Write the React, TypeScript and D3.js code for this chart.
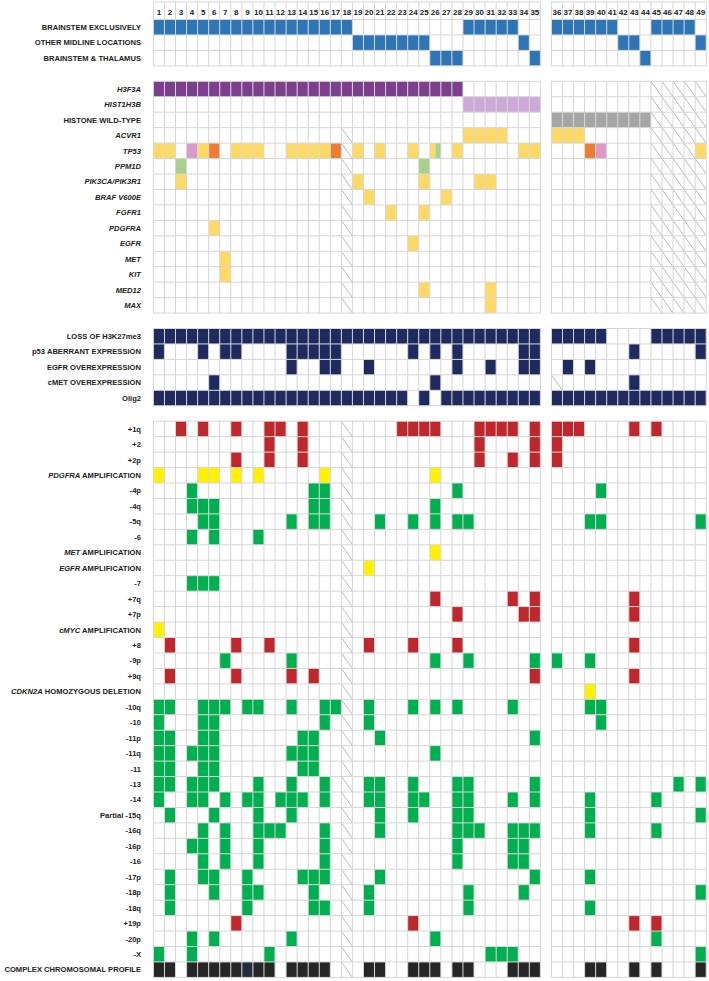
import React from 'react';
import * as d3 from 'd3';

// ---------- DATA ----------
const LEFT_COLS = [1,2,3,4,5,6,7,8,9,10,11,12,13,14,15,16,17,18,19,20,21,22,23,24,25,26,27,28,29,30,31,32,33,34,35];
const RIGHT_COLS = [36,37,38,39,40,41,42,43,44,45,46,47,48,49];

// labels: [italic part, plain part]
const LOCATION_LABELS: [string, string][] = [
  ['', 'BRAINSTEM EXCLUSIVELY'],
  ['', 'OTHER MIDLINE LOCATIONS'],
  ['', 'BRAINSTEM & THALAMUS'],
];
const LOCATION_CELLS: Record<string, number[]>[] = [
  { loc: [1,2,3,4,5,6,7,8,9,10,11,12,13,14,15,16,17,18,29,30,31,32,33,36,37,38,39,40,41,45,46,47,48] },
  { loc: [19,20,21,22,23,24,25,34,42,43,49] },
  { loc: [26,27,28,35,44] },
];
const LOCATION_NA: number[][] = [[], [], []];

const MUTATION_LABELS: [string, string][] = [
  ['H3F3A', ''], ['HIST1H3B', ''], ['', 'HISTONE WILD-TYPE'], ['ACVR1', ''], ['TP53', ''],
  ['PPM1D', ''], ['PIK3CA/PIK3R1', ''], ['BRAF V600E', ''], ['FGFR1', ''], ['PDGFRA', ''],
  ['EGFR', ''], ['MET', ''], ['KIT', ''], ['MED12', ''], ['MAX', ''],
];
const MUTATION_CELLS: Record<string, number[]>[] = [
  { h33: [1,2,3,4,5,6,7,8,9,10,11,12,13,14,15,16,17,18,19,20,21,22,23,24,25,26,27,28] },
  { h31: [29,30,31,32,33,34,35] },
  { wt: [36,37,38,39,40,41,42,43,44] },
  { mut: [29,30,31,32,36,37,38] },
  { mut: [1,2,5,8,9,10,13,14,15,16,19,21,24,28,34,35,49], orange: [6,17,39], pink: [4,40], split: [26] },
  { lgreen: [3,25] },
  { mut: [3,19,25,30,31] },
  { mut: [20,27] },
  { mut: [22,25] },
  { mut: [6] },
  { mut: [24] },
  { mut: [7] },
  { mut: [7] },
  { mut: [25,31] },
  { mut: [31] },
];
const MUTATION_NA: number[][] = [
  [45,46,47,48,49], [45,46,47,48,49], [45,46,47,48,49],
  [18,45,46,47,48,49], [18,45,46,47,48,49], [18,45,46,47,48,49], [18,45,46,47,48,49],
  [18,45,46,47,48,49], [18,45,46,47,48,49], [18,45,46,47,48,49], [18,45,46,47,48,49],
  [18,45,46,47,48,49], [18,45,46,47,48,49], [18,45,46,47,48,49], [18,45,46,47,48,49],
];

const IHC_LABELS: [string, string][] = [
  ['', 'LOSS OF H3K27me3'], ['', 'p53 ABERRANT EXPRESSION'], ['', 'EGFR OVEREXPRESSION'],
  ['', 'cMET OVEREXPRESSION'], ['', 'Olig2'],
];
const IHC_CELLS: Record<string, number[]>[] = [
  { ihc: [1,2,3,4,5,6,7,8,9,10,11,12,13,14,15,16,17,18,19,20,21,22,23,24,25,26,27,28,29,30,31,32,33,34,35,36,37,38,39,40,45,46,47,48,49] },
  { ihc: [1,5,7,8,13,14,15,16,17,24,26,28,34,35,43,49] },
  { ihc: [13,16,17,20,28,31,34,35,37,39] },
  { ihc: [6,26,43] },
  { ihc: [1,2,3,4,5,6,7,8,9,10,11,12,13,14,15,16,17,18,19,20,21,22,23,25,27,28,29,30,31,32,33,34,35,36,37,38,39,40,41,42,43,44,45,46,47,48,49] },
];
const IHC_NA: number[][] = [[], [], [], [36], []];

const CNV_LABELS: [string, string][] = [
  ['', '+1q'], ['', '+2'], ['', '+2p'], ['PDGFRA', ' AMPLIFICATION'], ['', '-4p'], ['', '-4q'],
  ['', '-5q'], ['', '-6'], ['MET', ' AMPLIFICATION'], ['EGFR', ' AMPLIFICATION'], ['', '-7'],
  ['', '+7q'], ['', '+7p'], ['cMYC', ' AMPLIFICATION'], ['', '+8'], ['', '-9p'], ['', '+9q'],
  ['CDKN2A', ' HOMOZYGOUS DELETION'], ['', '-10q'], ['', '-10'], ['', '-11p'], ['', '-11q'],
  ['', '-11'], ['', '-13'], ['', '-14'], ['', 'Partial -15q'], ['', '-16q'], ['', '-16p'],
  ['', '-16'], ['', '-17p'], ['', '-18p'], ['', '-18q'], ['', '+19p'], ['', '-20p'], ['', '-X'],
  ['', 'COMPLEX CHROMOSOMAL PROFILE'],
];
const CNV_CELLS: Record<string, number[]>[] = [
  { gain: [3,5,8,11,12,14,23,24,25,26,30,31,32,33,35,36,37,38,43,45] },
  { gain: [11,14,30,35,36] },
  { gain: [8,11,14,30,33,35,36] },
  { amp: [1,5,6,8,10,16,26] },
  { loss: [4,15,16,28,40] },
  { loss: [4,5,6,15,16,26] },
  { loss: [5,6,13,15,16,21,24,26,28,29,39,40,49] },
  { loss: [4,6,10] },
  { amp: [26] },
  { amp: [20] },
  { loss: [4,5,6] },
  { gain: [26,33,35,43] },
  { gain: [28,34,35,43] },
  { amp: [1] },
  { gain: [2,8,11,20,24,28,43] },
  { loss: [7,13,26,29,35,36,39] },
  { gain: [2,8,13,15,35,43] },
  { amp: [39] },
  { loss: [1,2,5,6,7,9,10,13,16,17,20,24,26,28,33,39,40] },
  { loss: [1,5,6,16,20,40] },
  { loss: [1,2,5,6,14,15,21,35] },
  { loss: [1,2,4,5,6,13,14,15,26] },
  { loss: [1,2,5,6,14,15] },
  { loss: [1,2,4,5,6,10,13,16,20,21,24,28,29,35,47,49] },
  { loss: [1,4,5,7,9,10,12,13,14,16,20,21,24,25,28,29,33,35,39,45] },
  { loss: [2,6,10,13,21,24,28,29,39,49] },
  { loss: [5,7,10,11,12,16,21,28,29,30,33,34,35,39,45] },
  { loss: [4,5,7,10,16,28,33,34] },
  { loss: [5,7,10,16,28,33,34] },
  { loss: [2,5,6,9,14,15,16,21,35,39] },
  { loss: [2,6,9,10,15,20,29,34,49] },
  { loss: [2,9,15,16,20,29,39] },
  { gain: [8,24,43,45] },
  { loss: [4,6,13,26,45] },
  { loss: [1,4,11,31,32,33,49] },
  { cx: [1,2,4,5,6,7,8,10,11,13,14,15,16,20,21,24,25,26,28,29,33,34,35,39,40,43,45,49], cx2: [9] },
];
const CNV_NA: number[][] = CNV_LABELS.map(() => [18]);

// ---------- STYLE ----------
const COLORS: Record<string, string> = {
  loc: '#2E75B6', h33: '#7B3F8E', h31: '#CCA9D7', wt: '#A6A6A6', mut: '#FFD966',
  orange: '#ED7D31', pink: '#DA9ACB', lgreen: '#A9D18E', ihc: '#1F2A5E',
  gain: '#C0272D', loss: '#00B050', amp: '#FFF100', cx: '#262626', cx2: '#222C40',
};
const GRID = '#D6D6D6';
const HATCH = '#A8A8A8';
const FONT = '"Liberation Sans", Arial, sans-serif';

export default function App() {
  const W = 709, H = 981;
  const colDomain = [...LEFT_COLS.map(String), 'gap', ...RIGHT_COLS.map(String)];
  const x = d3.scaleBand<string>().domain(colDomain).range([153.4, 706.2]);
  const rowH = 15.45;
  const panels = [
    { key: 'loc', labels: LOCATION_LABELS, cells: LOCATION_CELLS, na: LOCATION_NA },
    { key: 'mut', labels: MUTATION_LABELS, cells: MUTATION_CELLS, na: MUTATION_NA },
    { key: 'ihc', labels: IHC_LABELS, cells: IHC_CELLS, na: IHC_NA },
    { key: 'cnv', labels: CNV_LABELS, cells: CNV_CELLS, na: CNV_NA },
  ];
  const slots: string[] = [];
  panels.forEach((p, pi) => {
    if (pi > 0) slots.push('gap' + pi);
    p.labels.forEach((_, i) => slots.push(p.key + i));
  });
  const y = d3.scaleBand<string>().domain(slots).range([19.5, 19.5 + slots.length * rowH]);
  const bw = x.bandwidth();
  const bh = y.bandwidth();
  const headerTop = 2;

  const blocks = [LEFT_COLS, RIGHT_COLS];
  const elems: React.ReactNode[] = [];

  panels.forEach((p, pi) => {
    const rowKeys = p.labels.map((_, i) => p.key + i);
    const yTop = pi === 0 ? headerTop : (y(rowKeys[0]) as number);
    const yBot = (y(rowKeys[rowKeys.length - 1]) as number) + bh;
    // fills
    p.cells.forEach((row, ri) => {
      const yy = y(rowKeys[ri]) as number;
      const filled = new Set<number>();
      Object.entries(row).forEach(([code, cols]) => {
        cols.forEach((c) => {
          filled.add(c);
          const xx = x(String(c)) as number;
          if (code === 'split') {
            elems.push(<rect key={`${p.key}-${ri}-${c}-a`} x={xx} y={yy} width={bw / 2} height={bh} fill={COLORS.mut} />);
            elems.push(<rect key={`${p.key}-${ri}-${c}-b`} x={xx + bw / 2} y={yy} width={bw / 2} height={bh} fill={COLORS.lgreen} />);
          } else {
            elems.push(<rect key={`${p.key}-${ri}-${c}`} x={xx} y={yy} width={bw} height={bh} fill={COLORS[code]} />);
          }
        });
      });
      p.na[ri].forEach((c) => {
        if (filled.has(c)) return;
        const xx = x(String(c)) as number;
        elems.push(<line key={`${p.key}-${ri}-${c}-na`} x1={xx} y1={yy} x2={xx + bw} y2={yy + bh} stroke={HATCH} strokeWidth={0.8} />);
      });
    });
    // grid
    blocks.forEach((cols, bi) => {
      const x0 = x(String(cols[0])) as number;
      const x1 = (x(String(cols[cols.length - 1])) as number) + bw;
      cols.forEach((c, ci) => {
        if (ci === 0) return;
        const xx = x(String(c)) as number;
        elems.push(<line key={`g-${pi}-${bi}-v${c}`} x1={xx} y1={yTop} x2={xx} y2={yBot} stroke={GRID} strokeWidth={1} />);
      });
      const hs: number[] = [];
      if (pi === 0) hs.push(y(rowKeys[0]) as number);
      rowKeys.forEach((k, i) => { if (i > 0) hs.push(y(k) as number); });
      hs.forEach((hy, i) => {
        elems.push(<line key={`g-${pi}-${bi}-h${i}`} x1={x0} y1={hy} x2={x1} y2={hy} stroke={GRID} strokeWidth={1} />);
      });
      elems.push(<rect key={`g-${pi}-${bi}-box`} x={x0} y={yTop} width={x1 - x0} height={yBot - yTop} fill="none" stroke={GRID} strokeWidth={1} />);
    });
    // labels
    p.labels.forEach(([it, plain], ri) => {
      const yy = (y(rowKeys[ri]) as number) + bh / 2;
      elems.push(
        <text key={`lab-${p.key}-${ri}`} x={141} y={yy} dy="0.36em" textAnchor="end" fontFamily={FONT} fontWeight="bold" fontSize={7.6} fill="#222">
          {it ? <tspan fontStyle="italic">{it}</tspan> : null}
          {plain ? <tspan>{plain}</tspan> : null}
        </text>
      );
    });
  });

  // header numbers
  [...LEFT_COLS, ...RIGHT_COLS].forEach((c) => {
    elems.push(
      <text key={`hd-${c}`} x={(x(String(c)) as number) + bw / 2} y={15.3} textAnchor="middle" fontFamily={FONT} fontWeight="bold" fontSize={8} fill="#222">
        {c}
      </text>
    );
  });

  return (
    <svg width={W} height={H} style={{ position: 'absolute', left: 0, top: 0, background: '#fff' }}>
      <rect x={0} y={0} width={W} height={H} fill="#fff" />
      {elems}
    </svg>
  );
}
